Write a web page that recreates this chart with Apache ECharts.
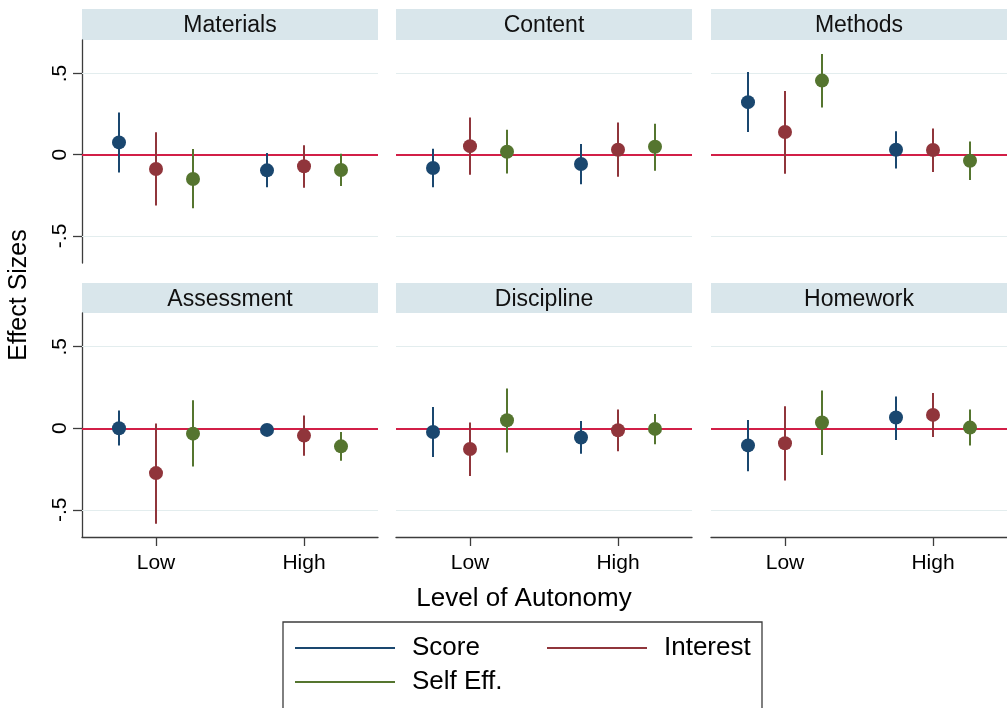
<!DOCTYPE html>
<html>
<head>
<meta charset="utf-8">
<script src="https://cdn.jsdelivr.net/npm/echarts@6/dist/echarts.min.js"></script>
<style>
  html, body { margin: 0; padding: 0; background: #fff; }
  #chart { width: 1007px; height: 708px; }
</style>
</head>
<body>
<div id="chart"></div>
<script>
// Panels, autonomy levels and outcome measures
const panels = ['Materials', 'Content', 'Methods', 'Assessment', 'Discipline', 'Homework'];
const levels = ['Low', 'High'];
const measures = ['Score', 'Interest', 'Self Eff.'];
const yTicks = [-0.5, 0, 0.5];

// Effect sizes per panel as [Low, High], with 95% interval bounds
const scoreEst = [[0.076, -0.096], [-0.082, -0.057], [0.324, 0.031], [0.0, -0.01], [-0.023, -0.057], [-0.105, 0.066]];
const scoreLo  = [[-0.11, -0.2], [-0.2, -0.182], [0.14, -0.084], [-0.105, -0.03], [-0.176, -0.156], [-0.264, -0.072]];
const scoreHi  = [[0.26, 0.01], [0.037, 0.066], [0.51, 0.144], [0.109, 0.01], [0.131, 0.045], [0.051, 0.195]];

const interestEst = [[-0.088, -0.071], [0.053, 0.031], [0.14, 0.029], [-0.275, -0.045], [-0.127, -0.012], [-0.092, 0.082]];
const interestLo  = [[-0.313, -0.203], [-0.123, -0.135], [-0.117, -0.106], [-0.586, -0.168], [-0.293, -0.141], [-0.32, -0.053]];
const interestHi  = [[0.138, 0.058], [0.23, 0.199], [0.393, 0.162], [0.029, 0.078], [0.035, 0.115], [0.135, 0.217]];

const selfEffEst = [[-0.149, -0.094], [0.018, 0.049], [0.457, -0.037], [-0.033, -0.111], [0.049, -0.004], [0.035, 0.004]];
const selfEffLo  = [[-0.33, -0.192], [-0.115, -0.098], [0.291, -0.156], [-0.234, -0.199], [-0.148, -0.098], [-0.164, -0.105]];
const selfEffHi  = [[0.035, 0.006], [0.154, 0.191], [0.621, 0.082], [0.172, -0.023], [0.244, 0.088], [0.232, 0.115]];

const estimates = [scoreEst, interestEst, selfEffEst];
const lowers = [scoreLo, interestLo, selfEffLo];
const uppers = [scoreHi, interestHi, selfEffHi];

const colors = ['#1A476F', '#90353B', '#55752F'];
const offsets = [-0.25, 0, 0.25];   // within-category dodge, as a fraction of the band
const FONT = '"Liberation Sans", Arial, sans-serif';

const colLeft = [82, 396, 711];
const rowTop = [40, 313];
const rowHeight = [223, 224];
const panelWidth = 296;
const stripTop = [9, 283];
const stripH = [31, 30];

const grids = [], xAxes = [], yAxes = [], series = [], graphics = [];

panels.forEach((name, p) => {
  const row = Math.floor(p / 3), col = p % 3;
  grids.push({ left: colLeft[col], top: rowTop[row], width: panelWidth, height: rowHeight[row] });

  xAxes.push({
    gridIndex: p, type: 'category', data: levels, boundaryGap: true,
    position: 'bottom',
    show: row === 1,
    axisLine: { show: true, onZero: false, lineStyle: { color: '#3c3c3c', width: 1.3 } },
    axisTick: { show: true, alignWithLabel: true, length: 9, lineStyle: { color: '#3c3c3c', width: 1.3 } },
    axisLabel: { fontFamily: FONT, fontSize: 21, color: '#000', margin: 16 },
    splitLine: { show: false }
  });

  yAxes.push({
    gridIndex: p, type: 'value', min: -0.667, max: 0.707,
    show: col === 0,
    axisLine: { show: true, onZero: false, lineStyle: { color: '#3c3c3c', width: 1.3 } },
    axisTick: { show: true, customValues: yTicks, length: 9, lineStyle: { color: '#3c3c3c', width: 1.3 } },
    axisLabel: {
      customValues: yTicks, rotate: 90, fontFamily: FONT, fontSize: 21, color: '#000', margin: 11,
      formatter: v => v === 0 ? '0' : (v < 0 ? '-' : '') + String(Math.abs(v)).replace(/^0/, '')
    },
    splitLine: { show: false }
  });

  // reference lines: light grid at ±.5, red zero line
  series.push({
    type: 'custom', name: '_guides', xAxisIndex: p, yAxisIndex: p, silent: true, z: 1,
    data: [[0, 0]], renderItem: () => null,
    markLine: {
      silent: true, symbol: 'none', z: 1, label: { show: false }, animation: false,
      data: [
        { yAxis: 0.5, lineStyle: { color: '#E3EDEE', width: 1.2, type: 'solid' } },
        { yAxis: -0.5, lineStyle: { color: '#E3EDEE', width: 1.2, type: 'solid' } },
        { yAxis: 0, lineStyle: { color: '#D21F47', width: 2, type: 'solid' } }
      ]
    }
  });

  measures.forEach((m, k) => {
    const data = levels.map((lv, i) => [lv, estimates[k][p][i], lowers[k][p][i], uppers[k][p][i]]);
    series.push({
      type: 'custom', name: m, xAxisIndex: p, yAxisIndex: p, z: 3,
      itemStyle: { color: colors[k] },
      dimensions: ['level', 'est', 'lo', 'hi'],
      encode: { x: 0, y: 1 },
      data: data,
      renderItem: (params, api) => {
        const cat = api.value(0);
        const c = api.coord([cat, api.value(1)]);
        const band = api.size([1, 0])[0];
        const x = c[0] + offsets[k] * band;
        const yLo = api.coord([cat, api.value(2)])[1];
        const yHi = api.coord([cat, api.value(3)])[1];
        return {
          type: 'group', children: [
            { type: 'line', shape: { x1: x, y1: yHi, x2: x, y2: yLo }, style: { stroke: colors[k], lineWidth: 2 } },
            { type: 'circle', shape: { cx: x, cy: c[1], r: 7 }, style: { fill: colors[k] } }
          ]
        };
      }
    });
  });

  // panel header strip
  graphics.push({
    type: 'rect', silent: true,
    shape: { x: colLeft[col], y: stripTop[row], width: panelWidth, height: stripH[row] },
    style: { fill: '#D9E6EB' }
  });
  graphics.push({
    type: 'text', silent: true,
    x: colLeft[col] + panelWidth / 2, y: stripTop[row] + stripH[row] / 2 + 1.5,
    style: { text: name, fontFamily: FONT, fontSize: 23, fill: '#111', align: 'center', verticalAlign: 'middle' }
  });
});

// axis titles
graphics.push({
  type: 'text', silent: true, x: 19, y: 295, rotation: Math.PI / 2,
  style: { text: 'Effect Sizes', fontFamily: FONT, fontSize: 25, fill: '#000', align: 'center', verticalAlign: 'middle' }
});
graphics.push({
  type: 'text', silent: true, x: 524, y: 599,
  style: { text: 'Level of Autonomy', fontFamily: FONT, fontSize: 26, fill: '#000', align: 'center', verticalAlign: 'middle' }
});
// legend frame
graphics.push({
  type: 'rect', silent: true, z: -1,
  shape: { x: 283, y: 622, width: 479, height: 110 },
  style: { fill: '#fff', stroke: '#3c3c3c', lineWidth: 1.3 }
});

const legendPos = [[295, 648], [547, 648], [295, 682]];
const legends = measures.map((m, k) => ({
  data: [{ name: m, itemStyle: { color: colors[k] } }],
  left: legendPos[k][0], top: legendPos[k][1] - 15, padding: 0,
  icon: 'rect', itemWidth: 100, itemHeight: 2,
  selectedMode: false,
  textStyle: { fontFamily: FONT, fontSize: 26, color: '#000', padding: [0, 0, 0, 12], lineHeight: 30 }
}));

const chart = echarts.init(document.getElementById('chart'), null, { renderer: 'canvas' });
chart.setOption({
  backgroundColor: '#fff',
  animation: false,
  grid: grids,
  xAxis: xAxes,
  yAxis: yAxes,
  legend: legends,
  graphic: { elements: graphics },
  series: series
});
</script>
</body>
</html>
